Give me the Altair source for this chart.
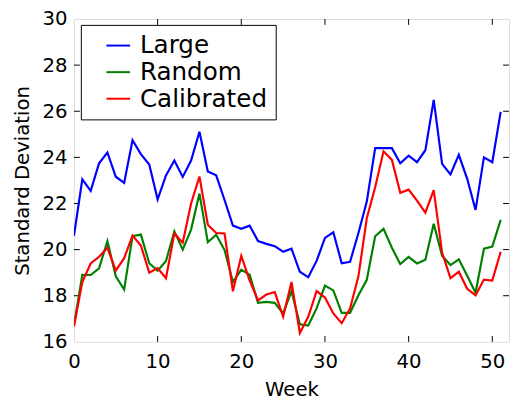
import altair as alt
import pandas as pd

weeks = list(range(52))
large = [20.6, 23.05, 22.55, 23.74, 24.21, 23.16, 22.89, 24.74, 24.14, 23.69,
         22.18, 23.22, 23.86, 23.15, 23.86, 25.11, 23.39, 23.22, 22.15, 21.04,
         20.9, 21.04, 20.37, 20.25, 20.15, 19.91, 20.04, 19.04, 18.8, 19.51,
         20.51, 20.75, 19.41, 19.47, 20.72, 22.08, 24.4, 24.4, 24.4, 23.74,
         24.07, 23.79, 24.31, 26.49, 23.72, 23.26, 24.11, 23.07, 21.72, 24.0,
         23.79, 25.97]
random_ = [16.73, 18.91, 18.9, 19.19, 20.37, 18.84, 18.27, 20.58, 20.65, 19.41,
           19.09, 19.51, 20.79, 20.0, 20.87, 22.43, 20.32, 20.65, 19.98, 18.59,
           19.13, 18.91, 17.69, 17.73, 17.69, 17.23, 18.2, 16.76, 16.71, 17.45,
           18.44, 18.23, 17.26, 17.26, 18.02, 18.69, 20.58, 20.9, 20.08, 19.37,
           19.68, 19.4, 19.56, 21.12, 19.73, 19.33, 19.58, 18.87, 18.13, 20.04,
           20.13, 21.29]
calibrated = [16.66, 18.59, 19.4, 19.69, 20.08, 19.09, 19.63, 20.61, 20.18, 19.0,
              19.2, 18.76, 20.7, 20.3, 22.0, 23.17, 21.08, 20.72, 20.7, 18.19,
              19.73, 18.66, 17.8, 18.05, 18.16, 17.09, 18.6, 16.38, 17.09, 18.2,
              17.92, 17.23, 16.81, 17.45, 18.84, 21.36, 22.7, 24.26, 23.89, 22.46,
              22.6, 22.12, 21.6, 22.58, 19.87, 18.76, 19.04, 18.3, 18.02, 18.7,
              18.66, 19.9]

series_names = ["Large", "Random", "Calibrated"]
series_colors = ["#0000ff", "#008000", "#ff0000"]
x_ticks = [0, 10, 20, 30, 40, 50]
y_ticks = [16, 18, 20, 22, 24, 26, 28, 30]

W, H = 442, 328
FONT = "DejaVu Sans"

rows = []
for name, vals in zip(series_names, [large, random_, calibrated]):
    for w, v in zip(weeks, vals):
        rows.append({"Week": w, "Value": v, "Series": name})
df = pd.DataFrame(rows)

xscale = alt.Scale(domain=[0, 52], nice=False, zero=False)
yscale = alt.Scale(domain=[16, 30], nice=False, zero=False)

lines = alt.Chart(df).mark_line(strokeWidth=2.2, clip=True).encode(
    x=alt.X("Week:Q", scale=xscale,
            axis=alt.Axis(values=x_ticks, title="Week", grid=False, ticks=False,
                          tickSize=0, domain=False, labelPadding=10,
                          labelFontSize=20, titleFontSize=20, titlePadding=8,
                          titleFontWeight="normal", labelFont=FONT, titleFont=FONT,
                          labelColor="black", titleColor="black", labelFlush=False)),
    y=alt.Y("Value:Q", scale=yscale,
            axis=alt.Axis(values=y_ticks, title="Standard Deviation", grid=False,
                          ticks=False, tickSize=0, domain=False, labelPadding=7,
                          labelFontSize=20, titleFontSize=20, titlePadding=10,
                          titleFontWeight="normal", labelFont=FONT, titleFont=FONT,
                          labelColor="black", titleColor="black", labelFlush=False)),
    color=alt.Color("Series:N",
                    scale=alt.Scale(domain=series_names, range=series_colors),
                    sort=series_names,
                    legend=alt.Legend(title=None, orient="none", legendX=7, legendY=6,
                                      symbolType="stroke", symbolStrokeWidth=2,
                                      symbolSize=576, labelFontSize=25, labelFont=FONT,
                                      labelColor="black", labelOffset=9,
                                      symbolOffset=17, rowPadding=1, padding=8,
                                      fillColor="white", strokeColor="black")),
    order=alt.Order("Week:Q"),
)

xt = pd.DataFrame({"t": x_ticks[1:]})
yt = pd.DataFrame({"t": y_ticks[1:-1]})

tick_style = dict(color="black", strokeWidth=1)
x_bottom = alt.Chart(xt).mark_rule(**tick_style).encode(
    x=alt.X("t:Q", scale=xscale), y=alt.value(H), y2=alt.value(H - 6))
x_top = alt.Chart(xt).mark_rule(**tick_style).encode(
    x=alt.X("t:Q", scale=xscale), y=alt.value(0), y2=alt.value(6))
y_left = alt.Chart(yt).mark_rule(**tick_style).encode(
    y=alt.Y("t:Q", scale=yscale), x=alt.value(0), x2=alt.value(6))
y_right = alt.Chart(yt).mark_rule(**tick_style).encode(
    y=alt.Y("t:Q", scale=yscale), x=alt.value(W), x2=alt.value(W - 6))

chart = alt.layer(x_bottom, x_top, y_left, y_right, lines).properties(
    width=W, height=H,
    autosize=alt.AutoSizeParams(type="none"),
    padding={"left": 67, "top": 8, "right": 2, "bottom": 62},
).configure_view(
    stroke="black", strokeWidth=2
).configure_legend(
    strokeWidth=2
).configure(background="white")

chart.save("out.html", embed_options={"renderer": "svg", "actions": False})
